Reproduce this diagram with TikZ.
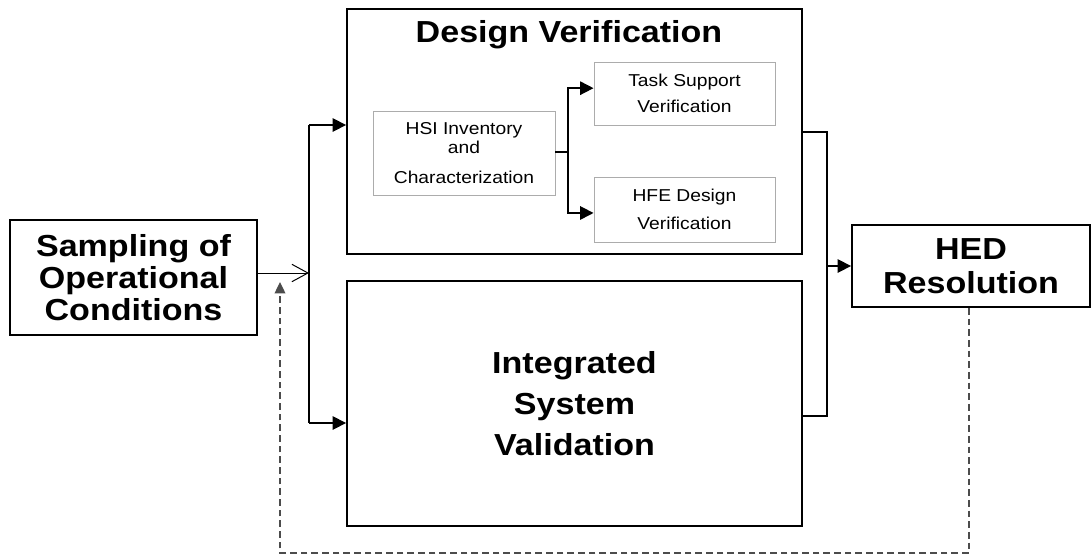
\documentclass[tikz,border=0pt]{standalone}
\usepackage{fontspec}
\setmainfont[FakeStretch=1.12]{Liberation Sans}
\usetikzlibrary{arrows.meta}

\begin{document}
\begin{tikzpicture}[x=0.75pt,y=-0.75pt,
  bigbox/.style={draw, line width=1.4pt, align=center, inner sep=0pt, font=\bfseries\fontsize{22.8}{24}\selectfont},
  subbox/.style={draw=gray!65, line width=0.7pt, align=center, inner sep=0pt, minimum width=135.75pt, font=\fontsize{12.9}{19.5}\selectfont},
  conn/.style={line width=1.2pt},
  arrowed/.style={conn, -{Triangle[length=10pt,width=10pt]}},
  feedback/.style={line width=1pt, black!70, dash pattern=on 5pt off 3pt, -{Triangle[length=8.5pt,width=8pt]}}]
\useasboundingbox (0,0) rectangle (1091,554);
% main blocks
\node[bigbox, minimum width=185.25pt, minimum height=86.25pt] (samp) at (133.5,277.5) {Sampling of\\Operational\\Conditions};
\node[bigbox, minimum width=341.25pt, minimum height=183.75pt] (dv) at (574.5,131.5) {};
\node[font=\bfseries\fontsize{22.8}{24}\selectfont] (dvtitle) at (569,35) {Design Verification};
\node[bigbox, minimum width=341.25pt, minimum height=183.75pt, font=\bfseries\fontsize{22.8}{31}\selectfont] (isv) at (574.5,403.5) {Integrated\\System\\Validation};
\node[bigbox, minimum width=178.5pt, minimum height=61.5pt, font=\bfseries\fontsize{22.8}{25.5}\selectfont] (hed) at (971,266) {HED\\Resolution};
% sub-steps of design verification
\node[subbox, minimum width=136.5pt, minimum height=63pt, font=\fontsize{12.9}{14.25}\selectfont] (hsi) at (464,153) {HSI Inventory\\and\\[8.25pt]Characterization};
\node[subbox, minimum height=47.25pt] (ts) at (684.5,93.5) {Task Support\\Verification};
\node[subbox, minimum height=48.75pt, font=\fontsize{12.9}{21}\selectfont] (hfe) at (684.5,209.5) {HFE Design\\Verification};
% split bus on the left
\coordinate (busTop) at (309,125);
\coordinate (busMid) at (309,273);
\coordinate (busBot) at (309,423);
\draw[line width=0.75pt, -{Straight Barb[length=12pt,width=13pt]}] (samp.east |- busMid) -- (busMid);
\draw[conn] (busTop) -- (busBot);
\draw[arrowed] (busTop) -- (busTop -| dv.west);
\draw[arrowed] (busBot) -- (busBot -| isv.west);
% fork inside design verification
\coordinate (fork) at (568,152);
\draw[conn] (hsi.east |- fork) -- (fork);
\draw[arrowed] (fork) |- ([yshift=4pt]ts.west);
\draw[arrowed] (fork) |- ([yshift=-2.6pt]hfe.west);
% join bus on the right
\coordinate (joinTop) at (827,132);
\coordinate (joinBot) at (827,416);
\coordinate (join) at (827,266);
\draw[conn] (dv.east |- joinTop) -- (joinTop) -- (joinBot) -- (joinBot -| isv.east);
\draw[arrowed] (join) -- (hed.west);
% feedback loop
\coordinate (fbEnd) at (280,282);
\draw[feedback] ([xshift=-1.5pt]hed.south) -- ++(0,245) -| (fbEnd);
\end{tikzpicture}
\end{document}
